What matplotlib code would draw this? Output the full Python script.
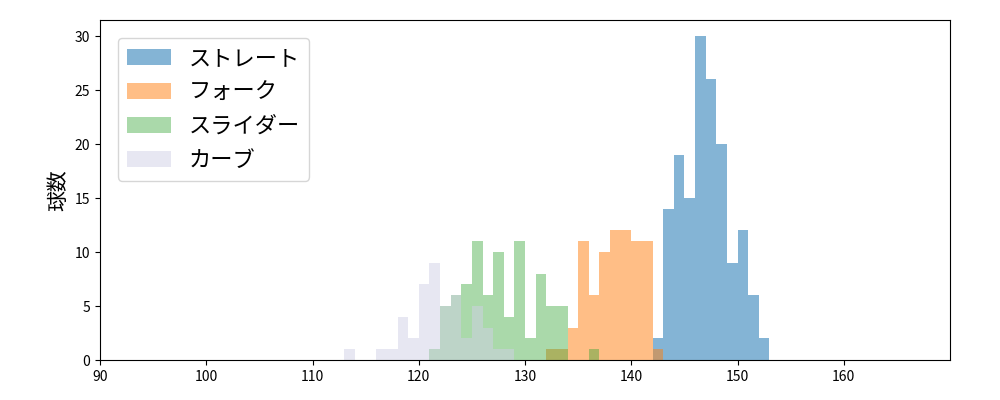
import matplotlib
matplotlib.use("Agg")
import matplotlib.pyplot as plt
import numpy as np

plt.rcParams['font.family'] = ['Noto Sans CJK JP', 'DejaVu Sans']

straight_bins = list(range(142, 153))
straight_counts = [2, 14, 19, 15, 30, 26, 20, 9, 12, 6, 2]
fork_bins = [132, 133, 134, 135, 136, 137, 138, 139, 140, 141, 142]
fork_counts = [1, 1, 3, 11, 6, 10, 12, 12, 11, 11, 1]
slider_bins = list(range(121, 134)) + [136]
slider_counts = [1, 5, 6, 7, 11, 6, 10, 4, 11, 2, 8, 5, 5, 1]
curve_bins = [113, 116, 117, 118, 119, 120, 121, 122, 123, 124, 125, 126, 127, 128]
curve_counts = [1, 1, 1, 4, 2, 7, 9, 5, 6, 2, 5, 3, 1, 1]

fig, ax = plt.subplots(figsize=(10, 4), dpi=100)
series = [("ストレート", straight_bins, straight_counts, "#1f77b4", 0.55),
          ("フォーク", fork_bins, fork_counts, "#ff7f0e", 0.5),
          ("スライダー", slider_bins, slider_counts, "#2ca02c", 0.4),
          ("カーブ", curve_bins, curve_counts, "#d0d0e6", 0.5)]
for name, b, c, col, a in series:
    ax.bar(b, c, width=1.0, align='edge', color=col, alpha=a, label=name)

ax.set_xlim(90, 170)
ax.set_ylim(0, 31.5)
ax.set_xticks(range(90, 170, 10))
ax.set_yticks(range(0, 31, 5))
ax.set_ylabel("球数", fontsize=15)
ax.legend(loc='upper left', fontsize=16, borderaxespad=0.8)
fig.subplots_adjust(left=0.1, right=0.95, bottom=0.1, top=0.95)
fig.savefig("out.png")
